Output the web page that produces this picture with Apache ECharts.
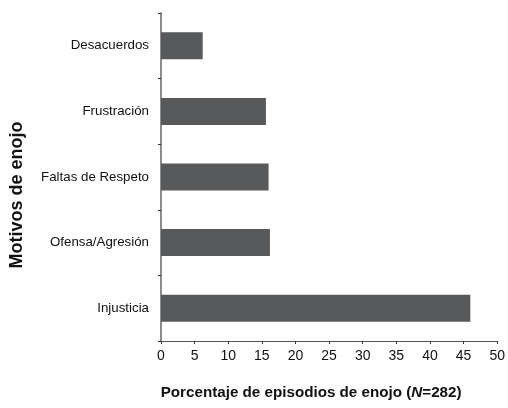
<!DOCTYPE html>
<html><head><meta charset="utf-8">
<script src="https://cdn.jsdelivr.net/npm/echarts@6/dist/echarts.min.js"></script>
<style>html,body{margin:0;padding:0;background:#fff}#c{width:508px;height:408px}</style>
</head><body><div id="c"></div>
<script>
const categories = ['Injusticia', 'Ofensa/Agresión', 'Faltas de Respeto', 'Frustración', 'Desacuerdos'];
const values = [46.0, 16.2, 16.0, 15.6, 6.2];
const xTicks = [0, 5, 10, 15, 20, 25, 30, 35, 40, 45, 50];

const font = '"Liberation Sans", Arial, sans-serif';
const chart = echarts.init(document.getElementById('c'), null, {renderer: 'canvas'});
chart.setOption({
  animation: false,
  grid: {left: 161, right: 7, top: 13, bottom: 67},
  xAxis: {
    type: 'value', min: xTicks[0], max: xTicks[xTicks.length - 1], interval: 5,
    name: '{t|Porcentaje de episodios de enojo (}{i|N}{t|=282)}',
    nameLocation: 'middle', nameGap: 44,
    nameTextStyle: {
      padding: [0, 36, 0, 0],
      rich: {
        t: {fontFamily: font, fontWeight: 'bold', fontSize: 15.2, color: '#111'},
        i: {fontFamily: font, fontWeight: 'bold', fontStyle: 'italic', fontSize: 15.2, color: '#111'}
      }
    },
    axisLine: {show: true, lineStyle: {color: '#555', width: 1}},
    axisTick: {show: true, length: 3, lineStyle: {color: '#333'}},
    axisLabel: {fontFamily: font, fontSize: 14, color: '#111', margin: 8},
    splitLine: {show: false}
  },
  yAxis: {
    type: 'category', data: categories,
    name: 'Motivos de enojo',
    nameLocation: 'middle', nameGap: 135,
    nameTextStyle: {fontFamily: font, fontWeight: 'bold', fontSize: 18, color: '#111', padding: [0, 36, 0, 0]},
    axisLine: {show: true, lineStyle: {color: '#666', width: 1.5}},
    axisTick: {show: true, length: 3, alignWithLabel: false, lineStyle: {color: '#333'}},
    axisLabel: {fontFamily: font, fontSize: 13.3, color: '#111', margin: 12}
  },
  series: [{
    type: 'bar', data: values, barWidth: 27,
    itemStyle: {color: '#58595b'}
  }]
});
</script></body></html>
